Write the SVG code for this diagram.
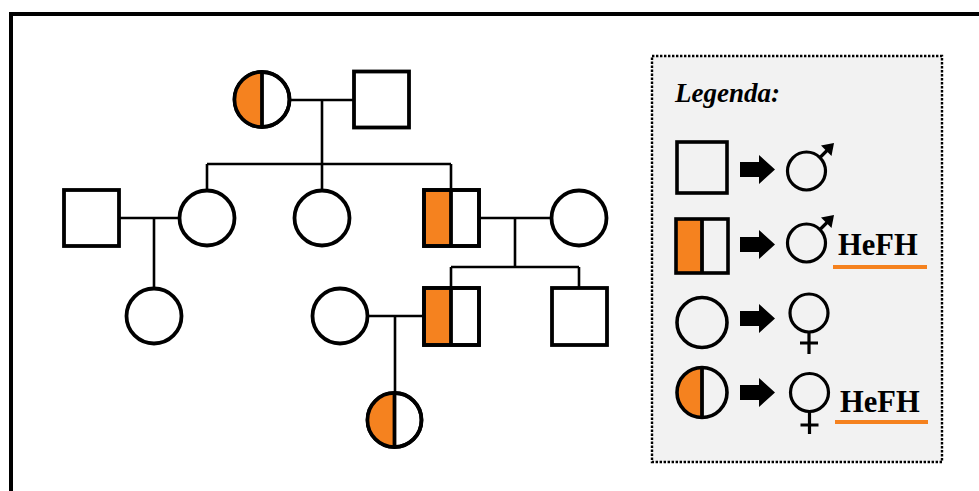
<svg xmlns="http://www.w3.org/2000/svg" width="979" height="491" viewBox="0 0 979 491">
<style>
.n{fill:#fff;stroke:#000;stroke-width:3.8}
.h{fill:#f5821f;stroke:none}
.d{stroke:#000;stroke-width:3.8}
.c{stroke:#000;stroke-width:2.6;fill:none}
.l{fill:none;stroke:#000;stroke-width:3.6}
.sym{fill:none;stroke:#000;stroke-width:3.2}
.ar{fill:#000}
.t{font-family:"Liberation Serif","Times New Roman",serif;font-weight:bold;fill:#000}
.u{stroke:#f5821f;stroke-width:4}
</style>
<rect x="0" y="0" width="979" height="491" fill="#fff"/>
<rect x="11" y="14" width="1000" height="500" fill="none" stroke="#000" stroke-width="4"/>
<g id="connectors">
<path class="c" d="M290,100H354 M322,100V189 M207,164H451 M207,164V189 M451,164V189"/>
<path class="c" d="M120,218H180 M154,218V288"/>
<path class="c" d="M480,218H552 M515,218V267 M451,267H579 M451,267V288 M579,267V288"/>
<path class="c" d="M368,316H424 M395,316V393"/>
</g>
<g id="gp_f">
<circle class="n" cx="262" cy="99.5" r="27.5"/>
<path class="h" d="M262,72A27.5,27.5 0 0 0 262,127Z"/>
<circle class="l" cx="262" cy="99.5" r="27.5"/>
<line class="d" x1="262" y1="72" x2="262" y2="127"/>
</g>
<g id="gp_m"><rect class="n" x="354" y="71.5" width="55" height="56"/></g>
<g id="p1_m"><rect class="n" x="64" y="190" width="55" height="56"/></g>
<g id="p1_f"><circle class="n" cx="207" cy="218" r="27.5"/></g>
<g id="p2_f"><circle class="n" cx="322" cy="218" r="27.5"/></g>
<g id="p3_m">
<rect class="n" x="424" y="190" width="55" height="56"/>
<rect class="h" x="426" y="192" width="25" height="52"/>
<rect class="l" x="424" y="190" width="55" height="56"/>
<line class="d" x1="451" y1="190" x2="451" y2="246"/>
</g>
<g id="p3_w"><circle class="n" cx="579" cy="218" r="27.5"/></g>
<g id="c1_f"><circle class="n" cx="154" cy="316" r="27.5"/></g>
<g id="c2_w"><circle class="n" cx="340" cy="316" r="27.5"/></g>
<g id="c2_m">
<rect class="n" x="424" y="288" width="55" height="57"/>
<rect class="h" x="426" y="290" width="25" height="53"/>
<rect class="l" x="424" y="288" width="55" height="57"/>
<line class="d" x1="451" y1="288" x2="451" y2="345"/>
</g>
<g id="c3_m"><rect class="n" x="552" y="288" width="55" height="57"/></g>
<g id="gc_f">
<circle class="n" cx="394.5" cy="420" r="27"/>
<path class="h" d="M394.5,393A27,27 0 0 0 394.5,447Z"/>
<circle class="l" cx="394.5" cy="420" r="27"/>
<line class="d" x1="394.5" y1="393" x2="394.5" y2="447"/>
</g>
<g id="legend">
<rect x="652" y="56" width="290" height="406" fill="#f2f2f2" stroke="#000" stroke-width="2.4" stroke-dasharray="2.4,1.6"/>
<text class="t" x="675" y="102" font-size="27" font-style="italic">Legenda:</text>
<rect class="l" x="677" y="142" width="50" height="51"/>
<path class="ar" d="M740,162H759V155L775,169.5L759,184V177H740Z"/>
<circle class="sym" cx="806.5" cy="171" r="19"/>
<path class="sym" d="M820,157.5L829,148.5"/>
<path class="ar" d="M834,143L831.5,156L821,145.5Z"/>
<rect class="h" x="676" y="219" width="26" height="53"/>
<rect class="l" x="676" y="219" width="52" height="54"/>
<line class="d" x1="702" y1="219" x2="702" y2="273"/>
<path class="ar" d="M740,237H759V230L775,244.5L759,259V252H740Z"/>
<circle class="sym" cx="806.5" cy="243" r="19"/>
<path class="sym" d="M820,229.5L829,220.5"/>
<path class="ar" d="M834,215L831.5,228L821,217.5Z"/>
<text class="t" x="838" y="255" font-size="30.5">HeFH</text>
<line class="u" x1="833" y1="267" x2="927" y2="267"/>
<circle class="l" cx="702" cy="322.5" r="25"/>
<path class="ar" d="M740,311H759V304L775,318.5L759,333V326H740Z"/>
<circle class="sym" cx="809" cy="313" r="19"/>
<path class="sym" d="M809,332V354 M800,343H818"/>
<path class="h" d="M702,367.5A25,25 0 0 0 702,417.5Z"/>
<circle class="l" cx="702" cy="392.5" r="25"/>
<line class="d" x1="702" y1="367.5" x2="702" y2="417.5"/>
<path class="ar" d="M740,385H759V378L775,392.5L759,407V400H740Z"/>
<circle class="sym" cx="809.5" cy="392.5" r="19"/>
<path class="sym" d="M809.5,411.5V434 M800.5,425H818.5"/>
<text class="t" x="840" y="412" font-size="30.5">HeFH</text>
<line class="u" x1="835" y1="422" x2="928" y2="422"/>
</g>
</svg>
